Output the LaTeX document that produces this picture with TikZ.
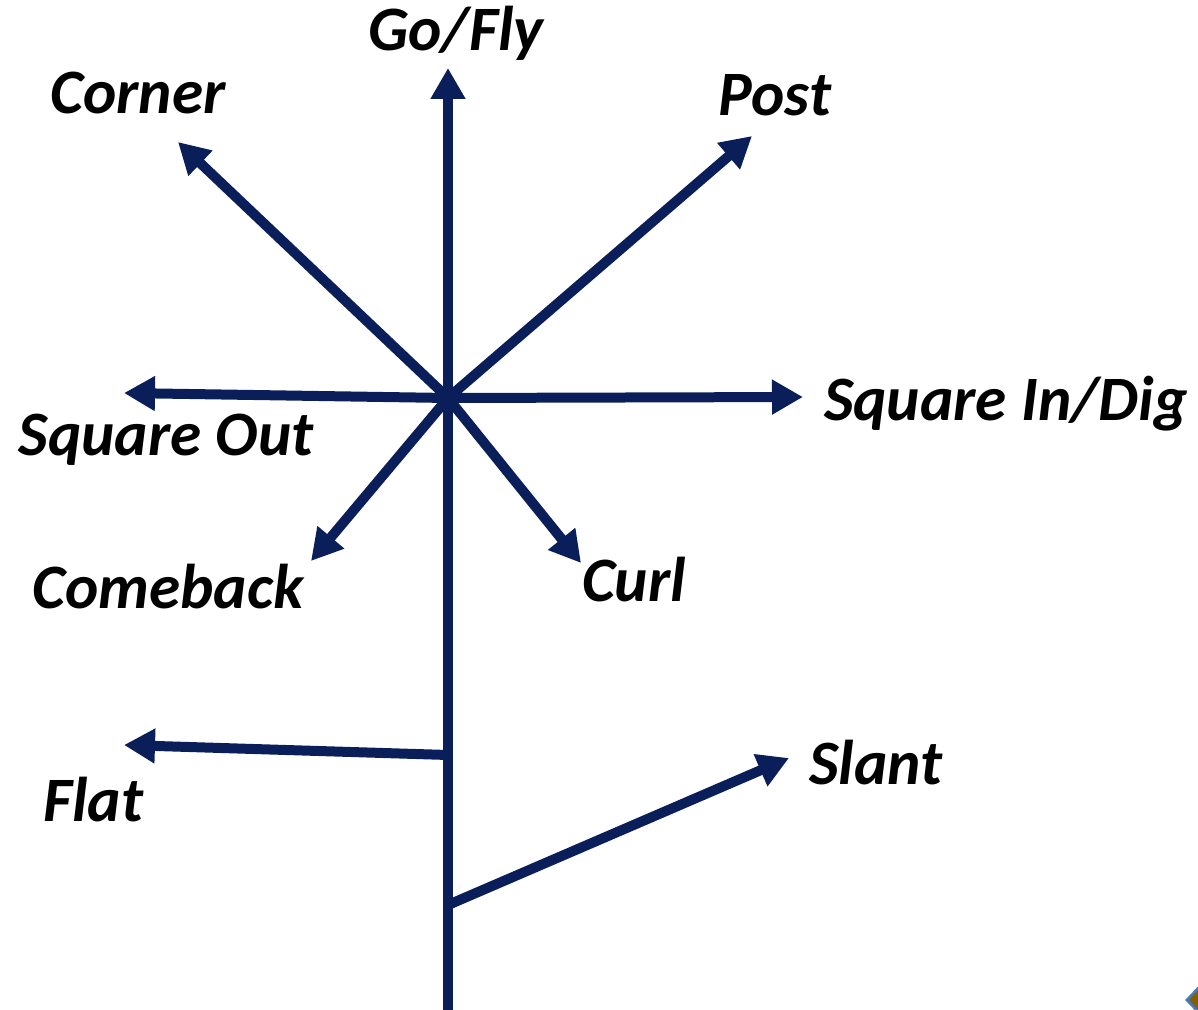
\documentclass[tikz,border=0pt]{standalone}
\usepackage{fontspec}
\setmainfont{Carlito}
\usetikzlibrary{arrows.meta}
\definecolor{routeblue}{RGB}{10,30,90}
\definecolor{logobrown}{RGB}{128,96,0}
\definecolor{logoblue}{RGB}{70,120,190}
\tikzset{
  route/.style={draw=routeblue, line width=0.2cm,
    -{Triangle[length=0.62cm, width=0.66cm]}},
  routelabel/.style={font=\fontsize{36}{36}\selectfont\bfseries\itshape, inner sep=0pt}
}
\begin{document}
\begin{tikzpicture}[x=0.02cm, y=-0.02cm]
    \useasboundingbox (0,0) rectangle (1198,1010);
    % the stem and the branching points
    \coordinate (base) at (448,1010);
    \coordinate (hub) at (448,398);
    \coordinate (flatroot) at (448,755);
    \coordinate (slantroot) at (448,905);
    % arrow tips
    \coordinate (gotip) at (448,68);
    \coordinate (cornertip) at (178,142);
    \coordinate (posttip) at (752,136);
    \coordinate (intip) at (803,397);
    \coordinate (outtip) at (124,393);
    \coordinate (backtip) at (311,561);
    \coordinate (curltip) at (581,563);
    \coordinate (flattip) at (124,745);
    \coordinate (slanttip) at (789,758);

    % the routes
    \draw[route] (base) -- (gotip);
    \draw[route] (hub) -- (cornertip);
    \draw[route] (hub) -- (posttip);
    \draw[route] (hub) -- (intip);
    \draw[route] (hub) -- (outtip);
    \draw[route] (hub) -- (backtip);
    \draw[route] (hub) -- (curltip);
    \draw[route] (flatroot) -- (flattip);
    \draw[route] (slantroot) -- (slanttip);

    % labels
    \node[routelabel] (go) at (456,33) {Go/Fly};
    \node[routelabel] (corner) at (138,93) {Corner};
    \node[routelabel] (post) at (775,95) {Post};
    \node[routelabel] (squarein) at (1006,404) {Square In/Dig};
    \node[routelabel] (squareout) at (166,440) {Square Out};
    \node[routelabel] (comeback) at (168,587) {Comeback};
    \node[routelabel] (curl) at (634,580) {Curl};
    \node[routelabel] (flat) at (93,800) {Flat};
    \node[routelabel] (slant) at (876,763) {Slant};

    % corner of a logo cut off by the frame
    \filldraw[fill=logobrown, draw=logoblue, line width=1.5pt]
      (1204,982) -- (1187,1000) -- (1204,1018) -- cycle;
\end{tikzpicture}
\end{document}
